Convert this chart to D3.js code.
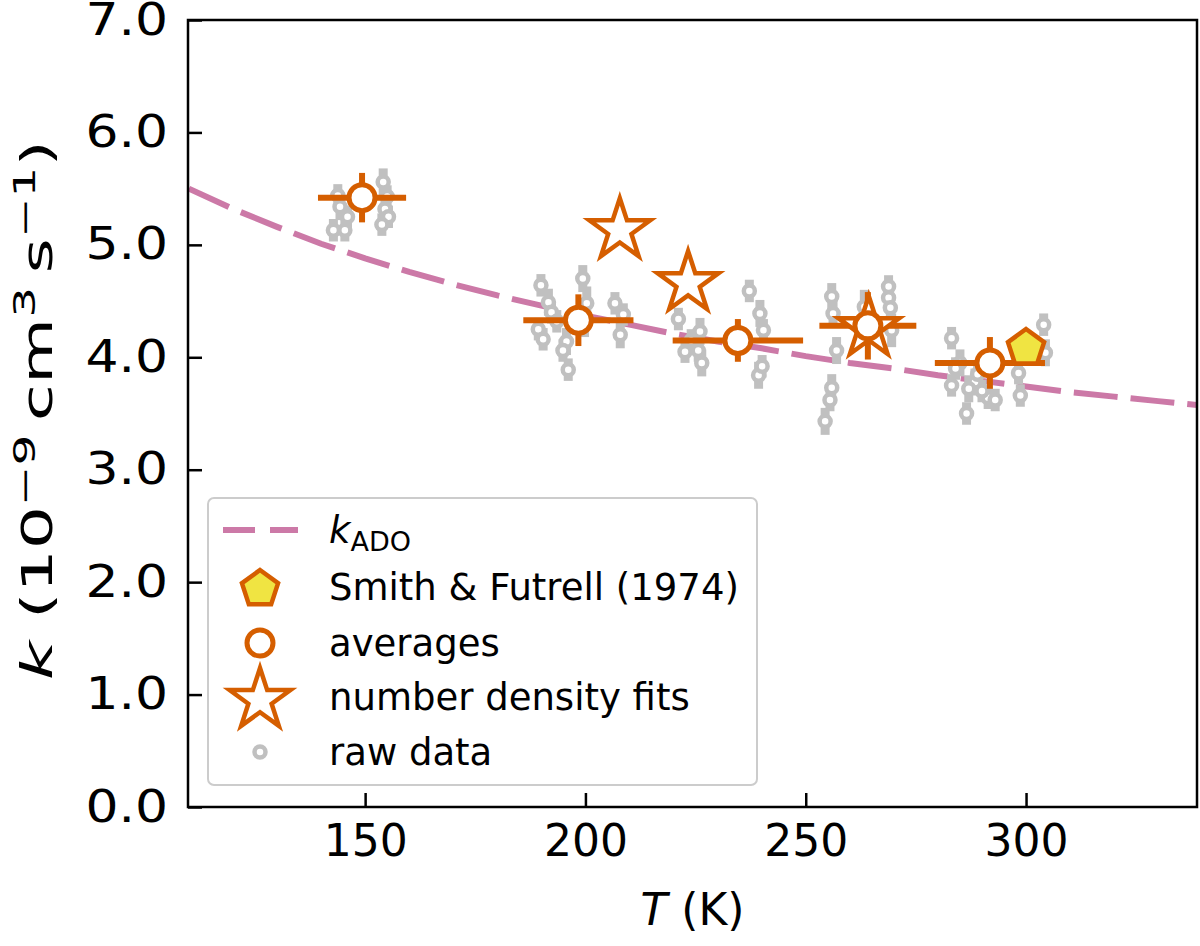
<!DOCTYPE html>
<html>
<head>
<meta charset="utf-8">
<script src="https://cdn.jsdelivr.net/npm/d3@7"></script>
<style>
  body { margin: 0; background: #fff; }
  text { font-family: "DejaVu Sans", sans-serif; fill: #000; }
</style>
</head>
<body>
<svg class="chart"></svg>
<script>
// ADO curve
const kadoT = [110, 120, 130, 140, 150, 160, 170, 180, 190, 200, 210, 220, 230, 240, 250, 260, 270, 280, 290, 300, 310, 320, 330, 340];
const kadoK = [5.50, 5.32, 5.16, 5.01, 4.88, 4.76, 4.65, 4.55, 4.46, 4.37, 4.29, 4.21, 4.14, 4.08, 4.01, 3.95, 3.90, 3.84, 3.79, 3.74, 3.69, 3.65, 3.61, 3.57];

// averages with x / y error bars
const avgT = [149.3, 198.4, 234.6, 264.1, 291.8];
const avgK = [5.42, 4.33, 4.15, 4.28, 3.95];
const avgTerr = [10.0, 12.5, 14.8, 11.0, 12.5];
const avgKerr = [0.22, 0.23, 0.19, 0.30, 0.23];

// number density fits
const fitT = [207.8, 223.3, 264.3];
const fitK = [5.13, 4.66, 4.26];

// Smith & Futrell (1974)
const smithT = [300.0];
const smithK = [4.10];

// raw data
const rawT = [142.8, 145.4, 144.3, 143.8, 146.0, 154.1, 154.5, 155.3, 153.8, 155.0,
              189.9, 191.6, 192.3, 189.3, 190.4, 195.7, 194.9, 196.1, 199.4, 200.3, 199.8, 206.7, 208.6, 207.9, 193.5,
              221.1, 226.0, 222.6, 225.6, 226.4, 237.2, 239.6, 240.4, 239.3, 240.1, 224.0,
              255.9, 256.2, 257.0, 255.9, 255.5, 254.4, 268.8, 268.8, 269.2, 269.5, 263.3, 263.0,
              283.1, 283.1, 286.5, 291.4, 288.4, 298.3, 298.7, 304.0, 304.4, 285.0, 287.0, 290.0, 289.0, 293.0, 284.0];
const rawK = [5.13, 5.13, 5.34, 5.44, 5.25, 5.56, 5.32, 5.25, 5.18, 5.43,
              4.64, 4.49, 4.40, 4.25, 4.16, 4.14, 4.06, 3.89, 4.70, 4.48, 4.30, 4.48, 4.38, 4.20, 4.32,
              4.34, 4.23, 4.05, 4.06, 3.95, 4.59, 4.39, 4.24, 3.84, 3.92, 4.15,
              4.54, 4.39, 4.06, 3.73, 3.62, 3.43, 4.63, 4.53, 4.44, 4.24, 4.45, 4.25,
              4.17, 3.75, 3.50, 3.64, 3.78, 3.86, 3.66, 4.29, 4.04, 3.95, 3.72, 3.70, 3.85, 3.62, 3.90];
const rawErr = [0.10, 0.10, 0.12, 0.10, 0.10, 0.12, 0.10, 0.10, 0.10, 0.10,
                0.10, 0.12, 0.10, 0.10, 0.10, 0.12, 0.10, 0.10, 0.12, 0.15, 0.12, 0.10, 0.10, 0.12, 0.10,
                0.10, 0.12, 0.10, 0.10, 0.12, 0.10, 0.12, 0.10, 0.12, 0.10, 0.10,
                0.12, 0.12, 0.12, 0.12, 0.10, 0.12, 0.10, 0.10, 0.12, 0.15, 0.15, 0.15,
                0.10, 0.10, 0.10, 0.10, 0.12, 0.10, 0.10, 0.10, 0.12, 0.12, 0.12, 0.10, 0.12, 0.10, 0.10];

const xTicks = [150, 200, 250, 300];
const yTicks = [0, 1, 2, 3, 4, 5, 6, 7];

const config = {
  svg: { width: 1200, height: 946 },
  margin: { left: 188, right: 3, top: 20, bottom: 139 }
};
const W = config.svg.width - config.margin.left - config.margin.right;
const H = config.svg.height - config.margin.top - config.margin.bottom;

const orange = '#D55E00', pink = '#CC79A7', yellow = '#F0E442', grey = '#c0c0c0';

const root = d3.select('.chart')
  .attr('width', config.svg.width)
  .attr('height', config.svg.height);

const svg = root.append('g')
  .attr('transform', `translate(${config.margin.left},${config.margin.top})`);

const x = d3.scaleLinear().domain([109.8, 338.8]).range([0, W]);
const y = d3.scaleLinear().domain([0, 7]).range([H, 0]);

svg.append('clipPath').attr('id', 'clip')
  .append('rect').attr('width', W).attr('height', H);

const plot = svg.append('g').attr('clip-path', 'url(#clip)');

// ADO curve
const line = d3.line().x((d, i) => x(kadoT[i])).y(d => y(d));
plot.append('path')
  .datum(kadoK)
  .attr('d', line)
  .style('fill', 'none')
  .style('stroke', pink)
  .style('stroke-width', 6)
  .style('stroke-dasharray', '44,13');

// raw data
plot.selectAll('.raw-err')
  .data(rawK)
  .enter().append('line')
  .attr('x1', (d, i) => x(rawT[i])).attr('x2', (d, i) => x(rawT[i]))
  .attr('y1', (d, i) => y(d - rawErr[i])).attr('y2', (d, i) => y(d + rawErr[i]))
  .style('stroke', grey).style('stroke-width', 9);

plot.selectAll('.raw-pt')
  .data(rawK)
  .enter().append('circle')
  .attr('cx', (d, i) => x(rawT[i]))
  .attr('cy', d => y(d))
  .attr('r', 5.5)
  .style('fill', '#fff').style('stroke', grey).style('stroke-width', 4.5);

// averages error bars
plot.selectAll('.avg-xerr')
  .data(avgK)
  .enter().append('line')
  .attr('x1', (d, i) => x(avgT[i] - avgTerr[i])).attr('x2', (d, i) => x(avgT[i] + avgTerr[i]))
  .attr('y1', d => y(d)).attr('y2', d => y(d))
  .style('stroke', orange).style('stroke-width', 6);

plot.selectAll('.avg-yerr')
  .data(avgK)
  .enter().append('line')
  .attr('x1', (d, i) => x(avgT[i])).attr('x2', (d, i) => x(avgT[i]))
  .attr('y1', (d, i) => y(d - avgKerr[i])).attr('y2', (d, i) => y(d + avgKerr[i]))
  .style('stroke', orange).style('stroke-width', 6);

// pentagon path
function pentagon(r) {
  const p = d3.path();
  for (let i = 0; i < 5; i++) {
    const a = -Math.PI / 2 + i * 2 * Math.PI / 5;
    if (i === 0) p.moveTo(r * Math.cos(a), r * Math.sin(a));
    else p.lineTo(r * Math.cos(a), r * Math.sin(a));
  }
  p.closePath();
  return p.toString();
}
const starPath = d3.symbol().type(d3.symbolStar).size(1150)();

// stars
plot.selectAll('.fit')
  .data(fitK)
  .enter().append('path')
  .attr('d', starPath)
  .attr('transform', (d, i) => `translate(${x(fitT[i])},${y(d)})`)
  .style('fill', '#fff').style('stroke', orange).style('stroke-width', 4.5)
  .style('stroke-linejoin', 'miter');

// average circles
plot.selectAll('.avg')
  .data(avgK)
  .enter().append('circle')
  .attr('cx', (d, i) => x(avgT[i]))
  .attr('cy', d => y(d))
  .attr('r', 13)
  .style('fill', '#fff').style('stroke', orange).style('stroke-width', 5);

// Smith & Futrell
plot.selectAll('.smith')
  .data(smithK)
  .enter().append('path')
  .attr('d', pentagon(19))
  .attr('transform', (d, i) => `translate(${x(smithT[i])},${y(d) + 2})`)
  .style('fill', yellow).style('stroke', orange).style('stroke-width', 4.5)
  .style('stroke-linejoin', 'miter');

// axes
const xAxis = d3.axisBottom(x).tickValues(xTicks).tickSizeInner(-14).tickSizeOuter(0).tickPadding(18);
const yAxis = d3.axisLeft(y).tickValues(yTicks).tickFormat(d3.format('.1f')).tickSizeInner(-14).tickSizeOuter(0).tickPadding(17);

svg.append('g').attr('transform', `translate(0,${H})`).call(xAxis)
  .call(g => g.select('.domain').remove());
const gy = svg.append('g').call(yAxis)
  .call(g => g.select('.domain').remove());
svg.selectAll('.tick line').style('stroke', '#000').style('stroke-width', 2.5);
svg.selectAll('.tick text').style('font-size', '44px').style('font-family', '"DejaVu Sans", sans-serif');
// the y tick labels are drawn a bit wider in the original
gy.selectAll('.tick text').attr('transform', 'scale(1.18,1)');

svg.append('rect')
  .attr('width', W).attr('height', H)
  .style('fill', 'none').style('stroke', '#000').style('stroke-width', 2.5);

// axis labels
const xl = svg.append('text')
  .attr('x', W / 2).attr('y', H + 118)
  .attr('text-anchor', 'middle')
  .style('font-size', '44px');
xl.append('tspan').style('font-style', 'italic').text('T');
xl.append('tspan').text(' (K)');

const yl = svg.append('text')
  .attr('text-anchor', 'middle')
  .style('font-size', '42px');
yl.append('tspan').style('font-style', 'italic').text('k');
yl.append('tspan').text(' (10');
yl.append('tspan').attr('dy', -17).style('font-size', '30px').text('\u22129');
yl.append('tspan').attr('dy', 17).text('\u2009cm');
yl.append('tspan').attr('dy', -17).style('font-size', '30px').text('3');
yl.append('tspan').attr('dy', 17).text('\u2009s');
yl.append('tspan').attr('dy', -17).style('font-size', '30px').text('\u22121');
yl.append('tspan').attr('dy', 17).text(')');
const ylLen = yl.node().getComputedTextLength();
yl.attr('transform', `translate(${52 - config.margin.left},${410 - config.margin.top}) rotate(-90) scale(${540 / ylLen},1)`);

// legend
const legend = svg.append('g').attr('class', 'legend')
  .attr('transform', `translate(${208 - config.margin.left},${498 - config.margin.top})`);
legend.append('rect')
  .attr('width', 549).attr('height', 287).attr('rx', 6)
  .style('fill', '#fff').style('fill-opacity', 0.8)
  .style('stroke', '#cccccc').style('stroke-width', 2);

const items = ['kado', 'Smith & Futrell (1974)', 'averages', 'number density fits', 'raw data'];
const rowY = [32, 89, 145, 199, 254];
const hx = 52, tx = 121;

legend.append('line')
  .attr('x1', 15).attr('x2', 90).attr('y1', rowY[0]).attr('y2', rowY[0])
  .style('stroke', pink).style('stroke-width', 6).style('stroke-dasharray', '32,15');
legend.append('path').attr('d', pentagon(19))
  .attr('transform', `translate(${hx},${rowY[1] + 2})`)
  .style('fill', yellow).style('stroke', orange).style('stroke-width', 4.5);
legend.append('circle').attr('cx', hx).attr('cy', rowY[2]).attr('r', 13)
  .style('fill', '#fff').style('stroke', orange).style('stroke-width', 5);
legend.append('path').attr('d', starPath)
  .attr('transform', `translate(${hx},${rowY[3] + 3})`)
  .style('fill', '#fff').style('stroke', orange).style('stroke-width', 4.5);
legend.append('circle').attr('cx', hx).attr('cy', rowY[4]).attr('r', 5.5)
  .style('fill', '#fff').style('stroke', grey).style('stroke-width', 4.5);

legend.selectAll('.lbl')
  .data(items)
  .enter().append('text')
  .attr('x', tx)
  .attr('y', (d, i) => rowY[i])
  .attr('dy', '0.36em')
  .style('font-size', '37px')
  .each(function(d, i) {
    const t = d3.select(this);
    if (d === 'kado') {
      t.append('tspan').style('font-style', 'italic').text('k');
      t.append('tspan').attr('dy', 8).style('font-size', '27px').text('ADO');
    } else {
      t.text(d);
    }
  });
</script>
</body>
</html>
